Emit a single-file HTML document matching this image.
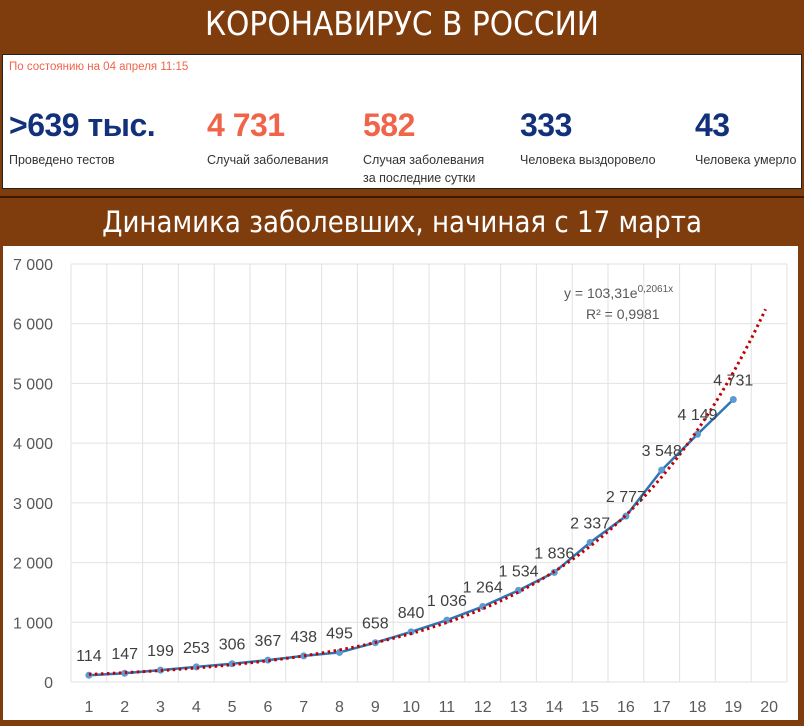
<!DOCTYPE html>
<html><head><meta charset="utf-8"><style>
body{margin:0;width:804px;height:726px;background:#7f3d0e;position:relative;overflow:hidden;font-family:"Liberation Sans","DejaVu Sans",sans-serif}
.t{position:absolute;left:0;width:804px;text-align:center;color:#fff;font-family:"DejaVu Sans Condensed","Liberation Sans",sans-serif}
#box{position:absolute;left:2px;top:54px;width:798px;height:133px;background:#fff;border:1px solid #222}
.n{position:absolute;top:52px;font-weight:bold;font-size:32px;letter-spacing:-0.5px}
.l{position:absolute;top:96px;font-size:12.5px;color:#333;line-height:18px}
</style></head><body>
<div class="t" style="top:4px;font-size:33px">КОРОНАВИРУС В РОССИИ</div>
<div id="box">
<div style="position:absolute;left:6px;top:6px;font-size:11.5px;color:#f0644a">По состоянию на 04 апреля 11:15</div>
<div class="n" style="left:6px;color:#12317a">&gt;639 тыс.</div>
<div class="l" style="left:6px">Проведено тестов</div>
<div class="n" style="left:204px;color:#f0644a">4 731</div>
<div class="l" style="left:204px">Случай заболевания</div>
<div class="n" style="left:360px;color:#f0644a">582</div>
<div class="l" style="left:360px">Случая заболевания<br>за последние сутки</div>
<div class="n" style="left:517px;color:#12317a">333</div>
<div class="l" style="left:517px">Человека выздоровело</div>
<div class="n" style="left:692px;color:#12317a">43</div>
<div class="l" style="left:692px">Человека умерло</div>
</div>
<div style="position:absolute;left:0;top:196px;width:804px;height:2px;background:#3a1a05"></div>
<div class="t" style="top:205px;font-size:29px">Динамика заболевших, начиная с 17 марта</div>
<svg id="chart" style="position:absolute;left:3px;top:246px" width="795" height="474" viewBox="3 246 795 474"></svg>
<script>
const days=[1,2,3,4,5,6,7,8,9,10,11,12,13,14,15,16,17,18,19];
const cases=[114,147,199,253,306,367,438,495,658,840,1036,1264,1534,1836,2337,2777,3548,4149,4731];
const labels=["114","147","199","253","306","367","438","495","658","840","1 036","1 264","1 534","1 836","2 337","2 777","3 548","4 149","4 731"];
const yTicks=[0,1000,2000,3000,4000,5000,6000,7000];
const yTickLabels=["0","1 000","2 000","3 000","4 000","5 000","6 000","7 000"];
const xCats=[1,2,3,4,5,6,7,8,9,10,11,12,13,14,15,16,17,18,19,20];
const trendA=103.31, trendB=0.2061;
const svg=document.getElementById('chart');const NS='http://www.w3.org/2000/svg';
const L=71,R=787,T=264,B=682,bw=(R-L)/20;
const X=d=>L+(d-0.5)*bw, Y=v=>B-(v/7000)*(B-T);
function mk(t,a,p){const e=document.createElementNS(NS,t);for(const k in a)e.setAttribute(k,a[k]);(p||svg).appendChild(e);return e;}
const bg=mk('rect',{x:3,y:246,width:795,height:474,fill:'#fff'});


yTicks.forEach((v,i)=>{
 const g=mk('line',{x1:L,x2:R,y1:Y(v),y2:Y(v),stroke:'#e2e2e2','stroke-width':1});
 
 
 const t=mk('text',{x:53,y:Y(v)+6,'text-anchor':'end','font-size':16,fill:'#595959'});t.textContent=yTickLabels[i];
 
 
});
for(let k=0;k<=20;k++){
 const g=mk('line',{x1:L+k*bw,x2:L+k*bw,y1:T,y2:B,stroke:'#e2e2e2','stroke-width':1});
 
 
}
xCats.forEach(c=>{
 const t=mk('text',{x:X(c),y:712,'text-anchor':'middle','font-size':16,fill:'#595959'});t.textContent=c;
 
 
});
const ln=mk('polyline',{points:days.map((d,i)=>X(d)+','+Y(cases[i])).join(' '),fill:'none',stroke:'#2e75b6','stroke-width':2.5});


days.forEach((d,i)=>{
 const c=mk('circle',{cx:X(d),cy:Y(cases[i]),r:3.5,fill:'#5b9bd5'});
 
 
});
let pts=[];for(let x=1;x<=20;x+=0.1)pts.push(X(x)+','+Y(trendA*Math.exp(trendB*x)));
const tr=mk('polyline',{points:pts.join(' '),fill:'none',stroke:'#c00000','stroke-width':3,'stroke-dasharray':'2.5 3.5'});


days.forEach((d,i)=>{
 const t=mk('text',{x:X(d),y:Y(cases[i])-14,'text-anchor':'middle','font-size':16,fill:'#404040'});t.textContent=labels[i];
 
 
});
const eq=mk('text',{x:564,y:298,'font-size':14,fill:'#595959'});eq.innerHTML='y = 103,31e<tspan dy="-6" font-size="10">0,2061x</tspan>';


const r2=mk('text',{x:586,y:319,'font-size':14,fill:'#595959'});r2.textContent='R² = 0,9981';


</script>
</body></html>
